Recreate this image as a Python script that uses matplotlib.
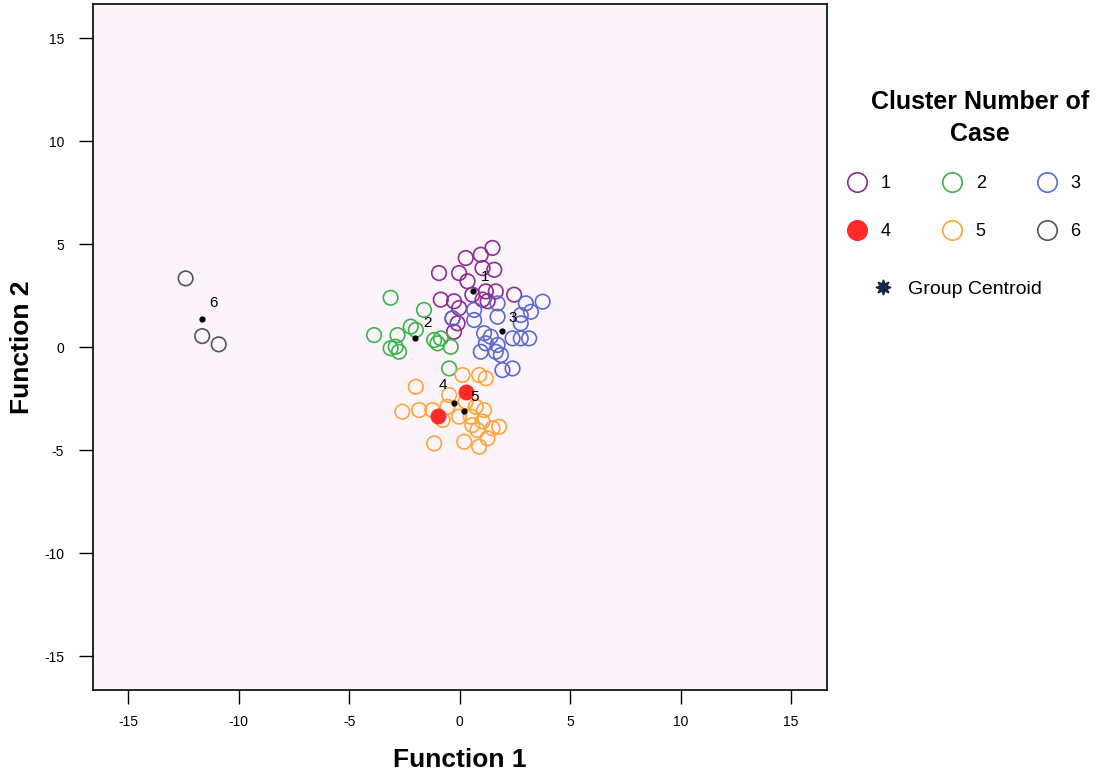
"""Discriminant function scatter: cluster membership by Function 1 / Function 2."""
import matplotlib
matplotlib.use("Agg")
import matplotlib.pyplot as plt
from matplotlib.lines import Line2D

plt.rcParams["font.family"] = ["Liberation Sans", "DejaVu Sans"]
plt.rcParams["axes.unicode_minus"] = False

# cases per cluster, (Function 1, Function 2)
c1_x = [1.48, 0.95, 0.27, 1.03, 1.56, -0.94, -0.03, 0.35, 1.18, 1.63, 2.46,
        -0.86, -0.26, 0.57, 1.03, 1.26, -0.03, -0.33, -0.10, -0.26]
c1_y = [4.81, 4.48, 4.32, 3.83, 3.75, 3.59, 3.59, 3.19, 2.70, 2.70, 2.54,
        2.30, 2.22, 2.54, 2.30, 2.22, 1.89, 1.39, 1.15, 0.74]
c2_x = [-3.13, -1.62, -3.88, -2.82, -2.22, -3.13, -2.75, -2.90, -1.16, -0.86,
        -0.41, -1.99, -1.01, -0.48]
c2_y = [2.39, 1.80, 0.58, 0.58, 0.99, -0.06, -0.23, 0.01, 0.34, 0.42,
        0.01, 0.83, 0.18, -1.04]
c3_x = [2.99, 3.75, 1.71, 0.65, 0.65, -0.33, 1.71, 2.76, 3.22, 2.76, 1.10,
        1.40, 2.39, 2.76, 3.14, 1.18, 1.71, 0.95, 1.63, 1.86, 2.39, 1.93]
c3_y = [2.12, 2.20, 2.12, 1.80, 1.31, 1.39, 1.47, 1.55, 1.71, 1.15, 0.67,
        0.50, 0.42, 0.42, 0.42, 0.18, 0.10, -0.23, -0.23, -0.39, -1.04, -1.12]
c4_x = [0.27, -0.97]
c4_y = [-2.17, -3.35]
c5_x = [-1.99, 0.12, 0.88, 1.18, -0.48, -2.60, -1.84, -1.24, -0.78, -0.56,
        -0.03, 0.50, 1.10, 0.72, 1.03, 0.80, 1.48, 1.78, 1.26, -1.16, 0.20,
        0.88, 0.27, 0.57]
c5_y = [-1.93, -1.36, -1.36, -1.52, -2.33, -3.14, -3.06, -3.06, -3.54, -2.90,
        -3.38, -3.38, -3.06, -2.90, -3.62, -4.03, -3.95, -3.87, -4.43, -4.68,
        -4.60, -4.84, -2.65, -3.79]
c6_x = [-12.41, -11.66, -10.91]
c6_y = [3.33, 0.53, 0.13]

# group centroids and where their numbers sit
cent_x = [0.62, -2.03, 1.93, -0.26, 0.20, -11.66]
cent_y = [2.73, 0.45, 0.78, -2.73, -3.09, 1.34]
lab_x = [1.13, -1.44, 2.39, -0.78, 0.69, -11.13]
lab_y = [3.41, 1.18, 1.39, -1.84, -2.41, 2.12]
cluster_names = ["1", "2", "3", "4", "5", "6"]

colors = ["#8e2c93", "#3cb449", "#5a6bd0", "#ff2b2b", "#ffa533", "#555555"]
filled = [False, False, False, True, False, False]

fig = plt.figure(figsize=(11.13, 7.72), dpi=100)
ax = fig.add_axes([0.0836, 0.1062, 0.6590, 0.8886])
ax.set_facecolor("#fcf4fb")

xs = [c1_x, c2_x, c3_x, c4_x, c5_x, c6_x]
ys = [c1_y, c2_y, c3_y, c4_y, c5_y, c6_y]
handles = []
for x, y, col, fill, name in zip(xs, ys, colors, filled, cluster_names):
    if fill:
        ax.scatter(x, y, s=110, color=col, edgecolors=col, zorder=3)
    else:
        ax.scatter(x, y, s=110, facecolors="none", edgecolors=col, lw=1.2, zorder=2)
    handles.append(Line2D([], [], ls="none", marker="o", ms=14,
                          mfc=col if fill else "none", mec=col, mew=1.2,
                          label=name))

ax.scatter(cent_x, cent_y, s=12, color="black", zorder=4)
for tx, ty, name in zip(lab_x, lab_y, cluster_names):
    ax.text(tx, ty, name, ha="center", va="center", fontsize=11, zorder=5)

ax.set_xlim(-16.6, 16.6)
ax.set_ylim(-16.65, 16.65)
ticks = [-15, -10, -5, 0, 5, 10, 15]
ax.set_xticks(ticks)
ax.set_yticks(ticks)
ax.tick_params(axis="both", length=10, width=1, labelsize=10)
ax.tick_params(axis="x", pad=8)
ax.tick_params(axis="y", pad=11)
for sp in ax.spines.values():
    sp.set_linewidth(1.2)
ax.set_xlabel("Function 1", fontsize=19, fontweight="bold", labelpad=14)
ax.set_ylabel("Function 2", fontsize=19, fontweight="bold", labelpad=7)

# legend: title, 3x2 grid of clusters (row-wise), then centroid entry
fig.text(0.8805, 1 - 118 / 772, "Cluster Number of\nCase", ha="center", va="center",
         multialignment="center", fontsize=18, fontweight="bold", linespacing=1.4)
order = [0, 3, 1, 4, 2, 5]
fig.legend(handles=[handles[i] for i in order], ncol=3, frameon=False,
           loc="upper left", bbox_to_anchor=(823 / 1113, 1 - 159 / 772),
           fontsize=13, handletextpad=0.3, columnspacing=2.4, labelspacing=1.72)
cent_handle = Line2D([], [], ls="none", marker=(8, 1, 0), ms=11,
                     color="#13294b", label="Group Centroid")
fig.legend(handles=[cent_handle], frameon=False, loc="upper left",
           bbox_to_anchor=(846 / 1113, 1 - 263 / 772), fontsize=14,
           handletextpad=0.3)

fig.savefig("out.png", dpi=100)
plt.close(fig)
